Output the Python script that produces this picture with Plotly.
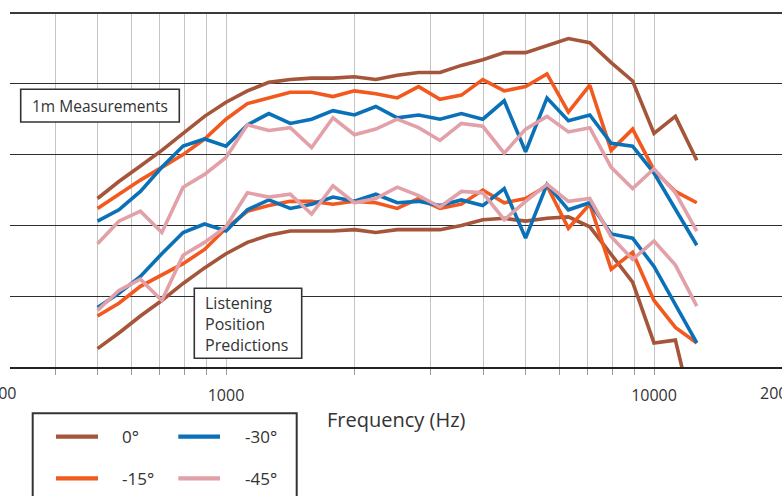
import math
import plotly.graph_objects as go

# 1/6-octave frequency points (Hz)
freq_hz = [501, 562, 631, 708, 794, 891, 1000, 1122, 1259, 1413, 1585, 1778,
           1995, 2239, 2512, 2818, 3162, 3548, 3981, 4467, 5012, 5623, 6310,
           7079, 7943, 8913, 10000, 11220, 12589]

# 1 m measurements (dB)
meas_0 = [71.9, 73.1, 74.2, 75.3, 76.5, 77.7, 78.7, 79.5, 80.1, 80.3, 80.4, 80.4,
          80.5, 80.3, 80.6, 80.8, 80.8, 81.3, 81.7, 82.2, 82.2, 82.7, 83.2, 82.9,
          81.5, 80.2, 76.5, 77.7, 74.6]
meas_15 = [71.2, 72.2, 73.2, 74.1, 75.0, 76.1, 77.5, 78.6, 79.0, 79.4, 79.4, 79.1,
           79.5, 79.3, 79.0, 79.8, 78.9, 79.2, 80.3, 79.5, 79.8, 80.7, 78.0, 79.9,
           75.3, 76.8, 73.9, 72.4, 71.6]
meas_30 = [70.3, 71.1, 72.4, 74.1, 75.6, 76.1, 75.6, 77.1, 77.9, 77.2, 77.5, 78.1,
           77.8, 78.4, 77.6, 77.8, 77.5, 77.9, 77.5, 78.8, 75.2, 79.0, 77.4, 77.8,
           75.8, 75.6, 73.7, 71.2, 68.6]
meas_45 = [68.7, 70.3, 71.0, 69.5, 72.7, 73.6, 74.8, 77.1, 76.7, 76.9, 75.5, 77.6,
           76.4, 76.8, 77.5, 76.9, 76.0, 77.2, 77.0, 75.1, 76.8, 77.7, 76.6, 76.9,
           74.1, 72.6, 74.0, 72.3, 69.6]

# Listening position predictions (dB)
pred_0 = [61.3, 62.4, 63.6, 64.7, 65.9, 67.0, 68.0, 68.8, 69.3, 69.6, 69.6, 69.6,
          69.7, 69.5, 69.7, 69.7, 69.7, 70.0, 70.4, 70.5, 70.3, 70.5, 70.6, 69.9,
          67.9, 66.0, 61.7, 61.9, 55.6]
pred_15 = [63.6, 64.5, 65.7, 66.5, 67.3, 68.3, 69.8, 71.0, 71.4, 71.7, 71.7, 71.5,
           71.7, 71.6, 71.2, 71.9, 71.2, 71.5, 72.5, 71.6, 71.9, 72.8, 69.8, 71.5,
           66.9, 68.1, 64.7, 62.8, 61.7]
pred_30 = [64.2, 65.2, 66.4, 68.0, 69.5, 70.1, 69.6, 71.1, 71.8, 71.2, 71.5, 72.0,
           71.7, 72.2, 71.6, 71.7, 71.4, 71.8, 71.4, 72.6, 69.1, 72.9, 71.1, 71.6,
           69.4, 69.1, 67.1, 64.4, 61.7]
pred_45 = [64.0, 65.4, 66.2, 64.7, 67.9, 68.8, 69.9, 72.3, 72.0, 72.2, 70.8, 72.8,
           71.6, 71.9, 72.7, 72.1, 71.3, 72.4, 72.3, 70.4, 71.7, 72.9, 71.7, 71.9,
           69.2, 67.6, 68.9, 67.2, 64.3]

angles = ["0°", "-15°", "-30°", "-45°"]
colors = {"0°": "#A5553A", "-15°": "#F2591F", "-30°": "#0A71B8", "-45°": "#E2A0A8"}
measured = {"0°": meas_0, "-15°": meas_15, "-30°": meas_30, "-45°": meas_45}
predicted = {"0°": pred_0, "-15°": pred_15, "-30°": pred_30, "-45°": pred_45}

grid_freqs = [400, 500, 600, 700, 800, 900, 1000, 2000, 3000, 4000, 5000,
              6000, 7000, 8000, 9000, 10000]
major_freqs = [1000, 10000]

W, H = 782, 496
ML, MR, MT, MB = 10, 0, 13, 129
PW, PH = W - ML - MR, H - MT - MB
FONT = "Open Sans"


def px(x):
    return (x - ML) / PW


def py(y):
    return (H - MB - y) / PH


fig = go.Figure()
for group in (measured, predicted):
    for a in angles:
        fig.add_trace(go.Scatter(
            x=freq_hz, y=group[a], mode="lines", name=a, showlegend=False,
            line=dict(color=colors[a], width=3.6), hoverinfo="x+y+name"))

shapes = []
# darker decade lines with longer ticks
for f in major_freqs:
    shapes.append(dict(type="line", xref="x", yref="paper", x0=math.log10(f),
                       x1=math.log10(f), y0=-11 / PH, y1=1, layer="between",
                       line=dict(color="#6e6e6e", width=1.6)))
# top frame line
shapes.append(dict(type="line", xref="paper", yref="paper", x0=0, x1=1, y0=1, y1=1,
                   layer="above", line=dict(color="#3a3a3a", width=2.2)))
# text boxes
shapes.append(dict(type="rect", xref="paper", yref="paper", x0=px(20.7), x1=px(179.3),
                   y0=py(122), y1=py(89.3), layer="above", fillcolor="white",
                   line=dict(color="#333", width=1.6)))
shapes.append(dict(type="rect", xref="paper", yref="paper", x0=px(194.3), x1=px(301.7),
                   y0=py(358.3), y1=py(288.3), layer="above", fillcolor="white",
                   line=dict(color="#333", width=1.6)))
# legend frame
shapes.append(dict(type="rect", xref="paper", yref="paper", x0=px(32.7), x1=px(296.7),
                   y0=py(520), y1=py(413.3), layer="above", fillcolor="white",
                   line=dict(color="#333", width=2)))

annotations = [
    dict(text="1m Measurements", xref="paper", yref="paper", x=px(100), y=py(106),
         xanchor="center", yanchor="middle", showarrow=False,
         font=dict(family=FONT, size=15.5, color="#333")),
    dict(text="Listening<br>Position<br>Predictions", xref="paper", yref="paper",
         x=px(203), y=py(324), xanchor="left", yanchor="middle", align="left",
         showarrow=False, font=dict(family=FONT, size=16, color="#333")),
    dict(text="Frequency (Hz)", xref="paper", yref="paper", x=px(396.5), y=py(420),
         xanchor="center", yanchor="middle", showarrow=False,
         font=dict(family=FONT, size=20, color="#333")),
]
# edge tick labels beyond the visible range
for f, xpix in ((300, 226 - 428 * math.log10(1000 / 300)),
                (20000, 226 + 428 * math.log10(20000 / 1000))):
    annotations.append(dict(text=str(f), xref="paper", yref="paper", x=px(xpix),
                            y=py(393), xanchor="center", yanchor="middle",
                            showarrow=False,
                            font=dict(family=FONT, size=16, color="#333")))

# legend drawn as a two-column key
legend_slots = {"0°": (56, 98, 120, 436.7), "-30°": (178.3, 220, 243.3, 436.7),
                "-15°": (56, 98, 120, 478.3), "-45°": (178.3, 220, 243.3, 478.3)}
for a in angles:
    x0, x1, xt, yy = legend_slots[a]
    shapes.append(dict(type="line", xref="paper", yref="paper", x0=px(x0), x1=px(x1),
                       y0=py(yy), y1=py(yy), layer="above",
                       line=dict(color=colors[a], width=4.2)))
    annotations.append(dict(text=a, xref="paper", yref="paper", x=px(xt), y=py(yy),
                            xanchor="left", yanchor="middle", showarrow=False,
                            font=dict(family=FONT, size=17, color="#333")))

fig.update_layout(
    width=W, height=H, margin=dict(l=ML, r=MR, t=MT, b=MB, pad=0),
    paper_bgcolor="white", plot_bgcolor="white",
    font=dict(family=FONT, size=16, color="#333"),
    shapes=shapes, annotations=annotations,
    xaxis=dict(type="log", range=[3 + (ML - 226) / 428, 3 + (W - MR - 226) / 428],
               tickvals=grid_freqs,
               ticktext=[str(f) if f in major_freqs else "" for f in grid_freqs],
               showgrid=True, gridcolor="#c4c4c4", gridwidth=1,
               ticks="outside", ticklen=6, tickcolor="#9a9a9a", tickwidth=1,
               ticklabelstandoff=7,
               showline=True, linecolor="#222", linewidth=2.4, zeroline=False,
               tickfont=dict(family=FONT, size=16, color="#333"), fixedrange=True),
    yaxis=dict(range=[60, 85], tickvals=[65, 70, 75, 80], showgrid=True,
               gridcolor="#2e2e2e", gridwidth=1, showticklabels=False,
               zeroline=False, showline=False, ticks="", fixedrange=True),
)

fig.write_html("out.html")
